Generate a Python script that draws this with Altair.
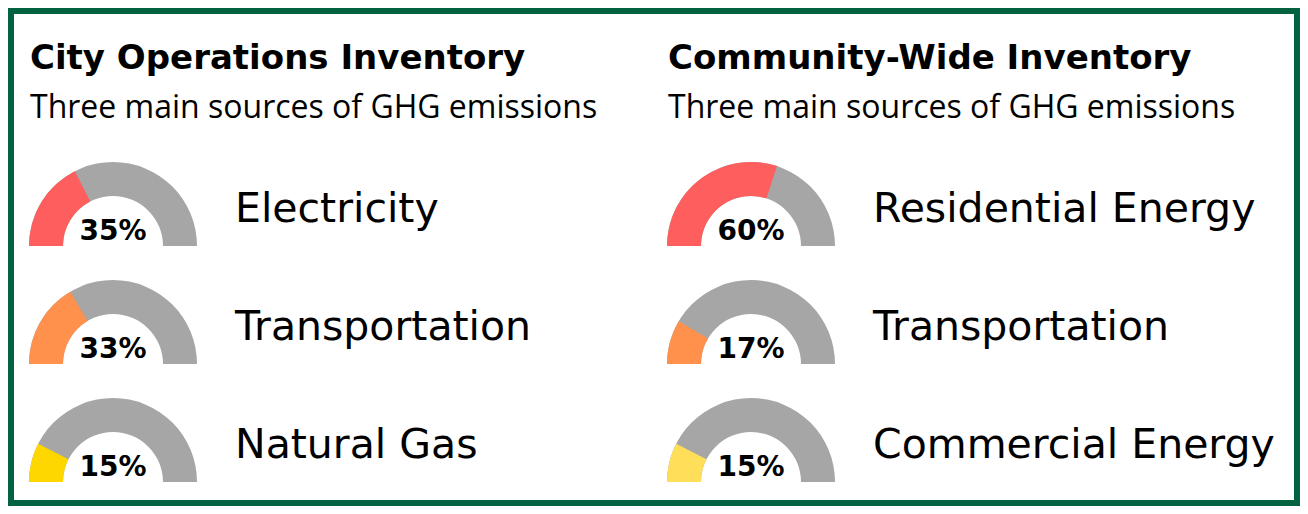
import math
import altair as alt
import pandas as pd

# ---- data ----
panels = ["City Operations Inventory", "Community-Wide Inventory"]
subtitles = ["Three main sources of GHG emissions", "Three main sources of GHG emissions"]

city_sources = ["Electricity", "Transportation", "Natural Gas"]
city_pct = [35, 33, 15]
city_colors = ["#FF5E5E", "#FF914D", "#FFD700"]

comm_sources = ["Residential Energy", "Transportation", "Commercial Energy"]
comm_pct = [60, 17, 15]
comm_colors = ["#FF5E5E", "#FF914D", "#FFDE59"]

ranks = [1, 2, 3]

GREY = "#A6A6A6"
GREEN = "#03623F"

rows = []
for p, srcs, vals in [(panels[0], city_sources, city_pct), (panels[1], comm_sources, comm_pct)]:
    for r, s, v in zip(ranks, srcs, vals):
        rows.append({"panel": p, "rank": r, "source": s, "pct": v, "key": f"{p}|{r}"})
gauges = pd.DataFrame(rows)
keys = list(gauges["key"])
key_colors = city_colors + comm_colors

heads = pd.DataFrame({"panel": panels, "subtitle": subtitles})

W, H = 1286, 492

x_enc = alt.X("panel:N", scale=alt.Scale(type="point", domain=panels, range=[102, 740], padding=0), axis=None)
y_enc = alt.Y("rank:O", scale=alt.Scale(type="point", domain=ranks, range=[235, 471], padding=0), axis=None)
theta_scale = alt.Scale(domain=[0, 100], range=[-math.pi / 2, math.pi / 2])

base = alt.Chart(gauges).transform_calculate(zero="0", full="100", label="datum.pct + '%'")

track = base.mark_arc(outerRadius=84, innerRadius=50, color=GREY).encode(
    x=x_enc, y=y_enc,
    theta=alt.Theta("zero:Q", scale=theta_scale, stack=None),
    theta2="full:Q",
)

share = base.mark_arc(outerRadius=84, innerRadius=50).encode(
    x=x_enc, y=y_enc,
    theta=alt.Theta("zero:Q", scale=theta_scale, stack=None),
    theta2="pct:Q",
    color=alt.Color("key:N", scale=alt.Scale(domain=keys, range=key_colors), legend=None),
)

pct_text = base.mark_text(
    font="DejaVu Sans", fontWeight="bold", fontSize=28, color="#000000",
    align="center", baseline="alphabetic", dy=-6,
).encode(x=x_enc, y=y_enc, text="label:N")

src_text = base.mark_text(
    font="DejaVu Sans", fontSize=41, color="#000000",
    align="left", baseline="alphabetic", dx=122, dy=-24,
).encode(x=x_enc, y=y_enc, text="source:N")

title_text = alt.Chart(heads).mark_text(
    font="DejaVu Sans", fontWeight="bold", fontSize=34, color="#000000",
    align="left", baseline="alphabetic", dx=-83,
).encode(x=x_enc, y=alt.value(58), text="panel:N")

sub_text = alt.Chart(heads).mark_text(
    font="Open Sans", fontSize=32, color="#000000",
    align="left", baseline="alphabetic", dx=-83,
).encode(x=x_enc, y=alt.value(107), text="subtitle:N")

chart = alt.layer(track, share, pct_text, src_text, title_text, sub_text).properties(
    width=W, height=H, padding=3, autosize=alt.AutoSizeParams(type="none"),
    background="white",
).configure_view(stroke=GREEN, strokeWidth=6)

chart.save("out.html", embed_options={"renderer": "svg", "actions": False})
